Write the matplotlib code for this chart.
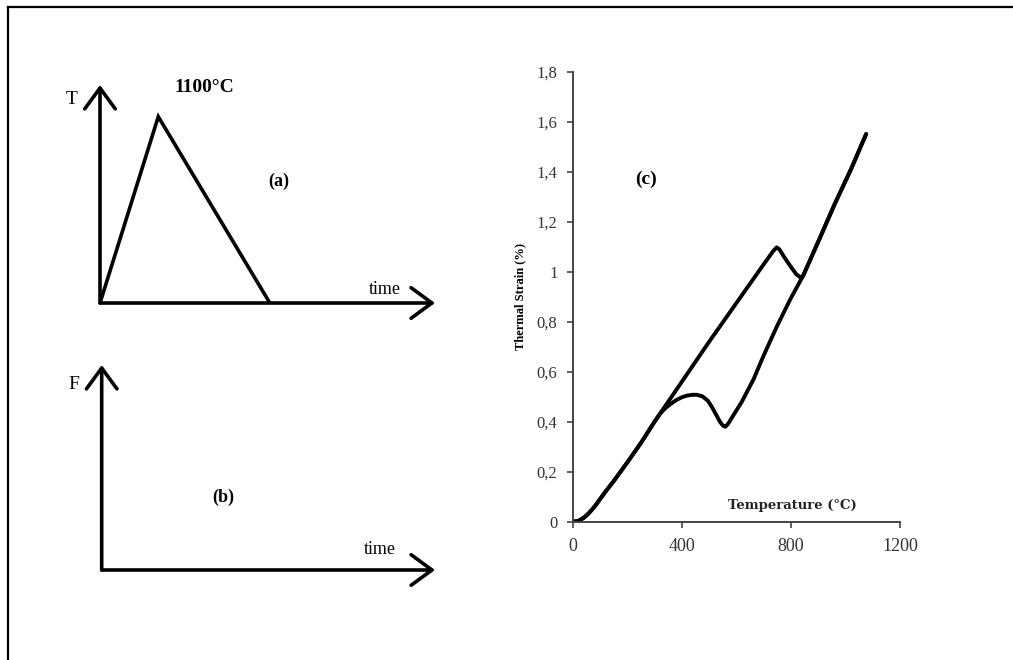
import matplotlib
matplotlib.use('Agg')
from matplotlib import pyplot as plt
from matplotlib.lines import Line2D

# schematic (a): temperature cycle, time in arbitrary units
cycle_time = [0, 0.174, 0.507]
cycle_temp = [0, 1100, 0]

# (c) dilatometry curve
heat_T = [0, 20, 40, 60, 80, 100, 120, 150, 200, 250, 300, 350, 400, 500, 600, 700,
          735, 748, 758, 775, 800, 820, 835, 845, 900, 960, 1020, 1076]
heat_eps = [0, 0.003, 0.015, 0.035, 0.06, 0.09, 0.12, 0.162, 0.237, 0.315, 0.40, 0.48, 0.56, 0.72, 0.875, 1.03,
            1.083, 1.098, 1.09, 1.06, 1.02, 0.99, 0.978, 0.985, 1.12, 1.27, 1.41, 1.552]

cool_T = [1076, 1020, 960, 900, 845, 800, 750, 700, 663, 620, 580, 570, 560, 552, 540, 525, 510, 495,
          475, 455, 440, 420, 400, 380, 360, 340, 320, 300, 250, 200, 150, 120, 100, 80, 60, 40, 20, 0]
cool_eps = [1.552, 1.41, 1.27, 1.12, 0.985, 0.895, 0.785, 0.665, 0.57, 0.48, 0.41, 0.392, 0.38, 0.383, 0.40, 0.43, 0.46, 0.485,
            0.502, 0.508, 0.508, 0.505, 0.498, 0.487, 0.472, 0.455, 0.432, 0.40, 0.315, 0.237, 0.162, 0.12, 0.09, 0.06, 0.035, 0.015, 0.003, 0]

y_ticks = [0, 0.2, 0.4, 0.6, 0.8, 1.0, 1.2, 1.4, 1.6, 1.8]
y_labels = ['0', '0,2', '0,4', '0,6', '0,8', '1', '1,2', '1,4', '1,6', '1,8']
x_ticks = [0, 400, 800, 1200]

W, H = 1013, 660
fig = plt.figure(figsize=(W / 100, H / 100), dpi=100)
serif = 'Liberation Serif'

# outer frame (only left and top edges visible)
fig.add_artist(Line2D([7.5 / W, 7.5 / W], [0, 1 - 7 / H], transform=fig.transFigure, color='black', lw=1.6))
fig.add_artist(Line2D([7.5 / W, 1], [1 - 7 / H, 1 - 7 / H], transform=fig.transFigure, color='black', lw=1.6))


def px_axes(x0, x1, y_top, y_bot):
    return fig.add_axes([x0 / W, 1 - y_bot / H, (x1 - x0) / W, (y_bot - y_top) / H])


arrow = dict(arrowstyle='->, head_length=0.75, head_width=0.55', lw=2.6, color='black',
             mutation_scale=20, shrinkA=0, shrinkB=0)

# ---- panel (a)
ax_a = px_axes(100, 435, 85, 303)
ax_a.set_xlim(0, 1)
ax_a.set_ylim(0, 1287)
ax_a.axis('off')
ax_a.plot(cycle_time, cycle_temp, color='black', lw=2.6, solid_joinstyle='miter')
ax_a.annotate('', xy=(1, 0), xytext=(0, 0), arrowprops=arrow, annotation_clip=False)
ax_a.annotate('', xy=(0, 1287), xytext=(0, 0), arrowprops=arrow, annotation_clip=False)
ax_a.text(-0.085, 1200, 'T', fontsize=14, family=serif, ha='center', va='center')
ax_a.text(0.31, 1270, '1100°C', fontsize=14, family=serif, fontweight='bold', ha='center', va='center')
ax_a.text(0.535, 720, '(a)', fontsize=13, family=serif, fontweight='bold', ha='center', va='center')
ax_a.text(0.85, 78, 'time', fontsize=13, family=serif, ha='center', va='center')

# ---- panel (b)
ax_b = px_axes(101.7, 435, 365, 570)
ax_b.set_xlim(0, 1)
ax_b.set_ylim(0, 1)
ax_b.axis('off')
ax_b.annotate('', xy=(1, 0), xytext=(0, 0), arrowprops=arrow, annotation_clip=False)
ax_b.annotate('', xy=(0, 1), xytext=(0, 0), arrowprops=arrow, annotation_clip=False)
ax_b.text(-0.085, 0.905, 'F', fontsize=14, family=serif, ha='center', va='center')
ax_b.text(0.365, 0.355, '(b)', fontsize=13, family=serif, fontweight='bold', ha='center', va='center')
ax_b.text(0.835, 0.1, 'time', fontsize=13, family=serif, ha='center', va='center')

# ---- panel (c)
ax = px_axes(572.7, 900, 72, 521.7)
ax.plot(heat_T, heat_eps, color='black', lw=2.8, solid_capstyle='round', solid_joinstyle='round')
ax.plot(cool_T, cool_eps, color='black', lw=2.8, solid_capstyle='round', solid_joinstyle='round')
ax.set_xlim(0, 1200)
ax.set_ylim(0, 1.8)
ax.set_yticks(y_ticks)
ax.set_yticklabels(y_labels)
ax.set_xticks(x_ticks)
for s in ['top', 'right']:
    ax.spines[s].set_visible(False)
for s in ['left', 'bottom']:
    ax.spines[s].set_color('#444444')
    ax.spines[s].set_linewidth(1.4)
ax.tick_params(direction='out', length=4, width=1.2, color='#444444', labelcolor='#333333')
ax.tick_params(axis='y', pad=7)
ax.tick_params(axis='x', pad=8)
for lab in ax.get_yticklabels():
    lab.set_family(serif)
    lab.set_fontsize(12)
for lab in ax.get_xticklabels():
    lab.set_family(serif)
    lab.set_fontsize(13)
ax.text(-0.16, 0.5, 'Thermal Strain (%)', transform=ax.transAxes, rotation=90, fontsize=9,
        family=serif, fontweight='bold', ha='center', va='center')
ax.text(0.67, 0.037, 'Temperature (°C)', transform=ax.transAxes, fontsize=9.5,
        family='DejaVu Serif', fontweight='bold', ha='center', va='center', color='#222222')
ax.text(0.225, 0.762, '(c)', transform=ax.transAxes, fontsize=14, family=serif,
        fontweight='bold', ha='center', va='center')

fig.savefig('out.png', dpi=100)
